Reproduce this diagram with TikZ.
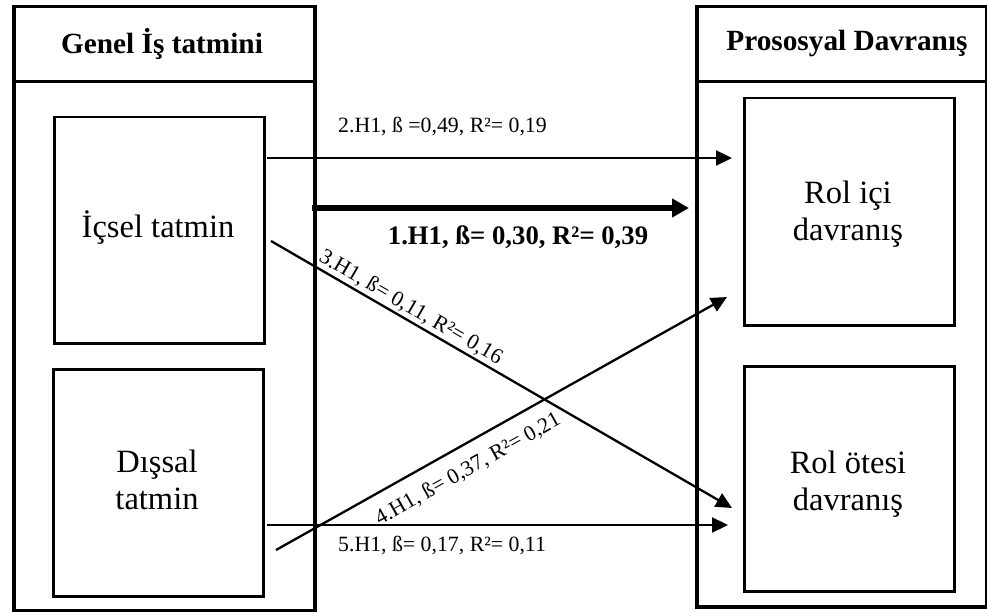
\documentclass[tikz,border=0pt]{standalone}
\usepackage{fontspec}
\setmainfont{Liberation Serif}
\usetikzlibrary{arrows.meta}
\tikzset{
  outerbox/.style={draw, line width=3.5pt, inner sep=0pt, anchor=north west},
  innerbox/.style={draw, line width=2.5pt, inner sep=0pt, anchor=north west},
  boxtext/.style={align=center, font=\fontsize{32.5}{37}\selectfont},
  headtext/.style={font=\bfseries\fontsize{29.3}{33}\selectfont},
  conn/.style={line width=2.3pt, -{Triangle[length=16pt,width=15pt]}},
  thickconn/.style={line width=6pt, -{Triangle[length=17pt,width=18pt]}},
  lbl/.style={font=\fontsize{21.8}{25}\selectfont, inner sep=2pt},
}
\begin{document}
\begin{tikzpicture}[x=1pt,y=-1pt]
\useasboundingbox (0,0) rectangle (987,612);
% outer boxes
\node[outerbox, minimum width=301pt, minimum height=75pt] (lh) at (12,5) {};
\node[outerbox, minimum width=301pt, minimum height=529pt] (lb) at (12,80) {};
\node[outerbox, minimum width=290pt, minimum height=75pt] (rh) at (695,5) {};
\node[outerbox, minimum width=290pt, minimum height=525pt] (rb) at (695,80) {};
\node[headtext] (lht) at (162,44) {Genel İş tatmini};
\node[headtext] (rht) at (847,44) {Prososyal Davranış};
% inner boxes
\node[innerbox, minimum width=210pt, minimum height=226pt] (b1) at (53,116) {};
\node[innerbox, minimum width=210pt, minimum height=227pt] (b2) at (52,368) {};
\node[innerbox, minimum width=210pt, minimum height=227pt] (b3) at (743,97) {};
\node[innerbox, minimum width=210pt, minimum height=225pt] (b4) at (743,365) {};
\node[boxtext] (t1) at (158,228) {İçsel tatmin};
\node[boxtext] (t2) at (157,480) {Dışsal\\tatmin};
\node[boxtext] (t3) at (848,214) {Rol içi\\davranış};
\node[boxtext] (t4) at (848,484) {Rol ötesi\\davranış};
% connector end points
\coordinate (s2) at (267,158); \coordinate (e2) at (732,158);
\coordinate (s1) at (312,208); \coordinate (e1) at (689,208);
\coordinate (s3) at (271,241); \coordinate (e3) at (732,508);
\coordinate (s4) at (276,550); \coordinate (e4) at (727,297);
\coordinate (s5) at (267,525); \coordinate (e5) at (728,525);
% connectors
\draw[conn] (s2) -- (e2);
\draw[thickconn] (s1) -- (e1);
\draw[conn] (s3) -- node[lbl, pos=0.29, sloped, above] {3.H1, ß= 0,11, R²= 0,16} (e3);
\draw[conn] (s4) -- node[lbl, pos=0.40, sloped, below=11pt] {4.H1, ß= 0,37, R²= 0,21} (e4);
\draw[conn] (s5) -- (e5);
% labels
\node[lbl, anchor=west] (l2) at (336,127) {2.H1, ß =0,49, R²= 0,19};
\node[lbl, anchor=west] (l5) at (336,545) {5.H1, ß= 0,17, R²= 0,11};
\node[font=\bfseries\fontsize{26.7}{30}\selectfont] (l1) at (518,237) {1.H1, ß= 0,30, R²= 0,39};
\end{tikzpicture}
\end{document}
